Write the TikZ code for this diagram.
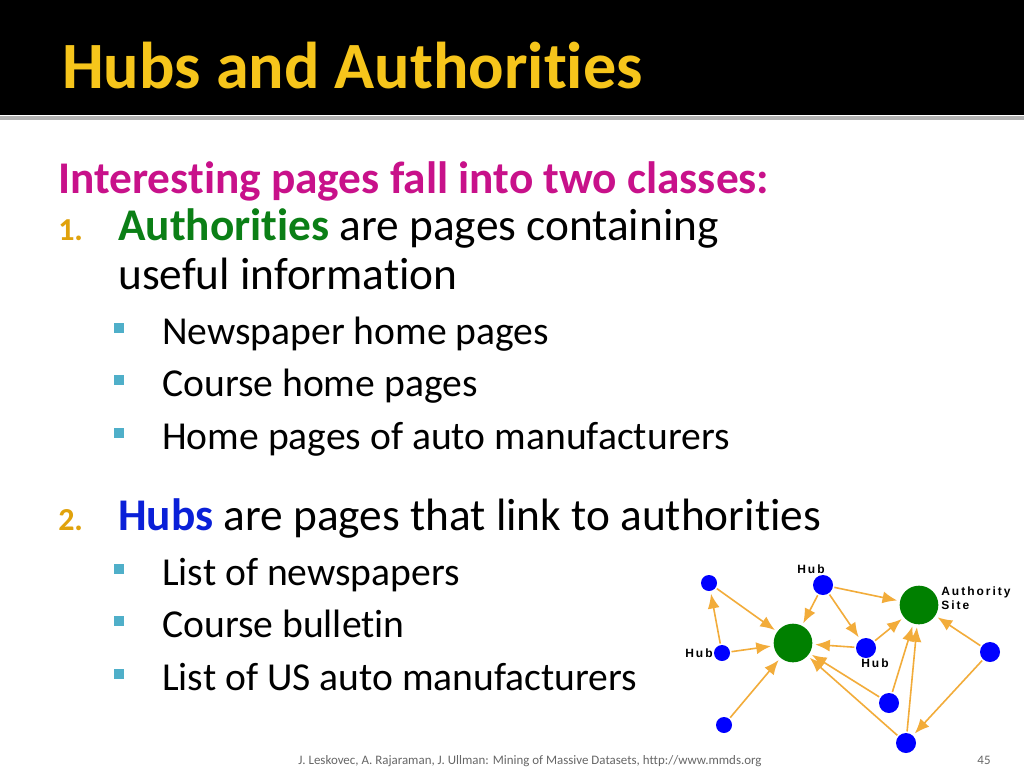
\documentclass[tikz,border=0pt]{standalone}
\usepackage{fontspec}
\usetikzlibrary{arrows.meta}
\setmainfont[Ligatures=NoCommon]{Carlito}
\newfontfamily\hel{Liberation Sans}
\definecolor{ttl}{HTML}{F6C51B}
\definecolor{mag}{HTML}{C8118A}
\definecolor{grn}{HTML}{0B7F16}
\definecolor{org}{HTML}{E0A20C}
\definecolor{blu}{HTML}{0A20D8}
\definecolor{teal}{HTML}{4FAFC9}
\definecolor{edge}{HTML}{F2AC3A}
\definecolor{big}{HTML}{008000}
\begin{document}
\begin{tikzpicture}[x=0.75pt,y=-0.75pt,
  txt/.style={anchor=base west,inner sep=0pt,font=\fontsize{34}{40}\selectfont},
  sub/.style={anchor=base west,inner sep=0pt,font=\fontsize{29.7}{34}\selectfont},
  num/.style={anchor=base west,inner sep=0pt,text=org,font=\bfseries\fontsize{24}{28}\selectfont},
  bul/.style={fill=teal,minimum size=7.5pt,inner sep=0pt},
  sm/.style={circle,fill=blue,minimum size=12pt,inner sep=0pt},
  hb/.style={circle,fill=blue,minimum size=15pt,inner sep=0pt},
  au/.style={circle,fill=big,minimum size=29pt,inner sep=0pt},
  lk/.style={draw=edge,line width=1.2pt,-{Latex[length=11pt,width=9pt]},shorten >=2pt,shorten <=1pt},
  lab/.style={font=\hel\bfseries\fontsize{9}{11}\selectfont,inner sep=0pt,anchor=base west}]
\useasboundingbox (0,0) rectangle (1024,768);
\fill[white] (0,0) rectangle (1024,768);
\fill[black] (0,0) rectangle (1024,115);
\fill[gray!60] (0,116) rectangle (1024,120);
\node[anchor=base west,inner sep=0pt,text=ttl,font=\bfseries\fontsize{49.6}{56}\selectfont] (t) at (62,88) {Hubs and Authorities};
\node[txt,text=mag,font=\bfseries\fontsize{34}{40}\selectfont] (h) at (58,193) {Interesting pages fall into two classes:};
\node[num] (n1) at (58,240) {1.};
\node[txt] (l1) at (118,240) {\textcolor{grn}{\bfseries Authorities} are pages containing};
\node[txt] (l2) at (118,289) {useful information};
\foreach \y/\s [count=\i] in {344/Newspaper home pages,396/Course home pages,449/Home pages of auto manufacturers}{
  \node[bul] (b\i) at (119,\y-16) {};
  \node[sub] (s\i) at (162,\y) {\s};}
\node[num] (n2) at (58,530) {2.};
\node[txt] (l3) at (118,530) {\textcolor{blu}{\bfseries Hubs} are pages that link to authorities};
\foreach \y/\s [count=\i from 4] in {585/List of newspapers,637/Course bulletin,690/List of US auto manufacturers}{
  \node[bul] (b\i) at (119,\y-16) {};
  \node[sub] (s\i) at (162,\y) {\s};}
\node[anchor=base,inner sep=0pt,text=gray!80!black,font=\fontsize{9.7}{11}\selectfont] (f) at (530,764) {J. Leskovec, A. Rajaraman, J. Ullman: Mining of Massive Datasets, http://www.mmds.org};
\node[anchor=base,inner sep=0pt,text=gray!80!black,font=\fontsize{9.7}{11}\selectfont] (pg) at (984,764) {45};
% graph
\node[sm] (A) at (709,583) {};
\node[hb] (H1) at (823,585) {};
\node[au] (G1) at (793,643) {};
\node[au] (G2) at (919,605) {};
\node[sm] (H2) at (722,653) {};
\node[hb] (H3) at (866,648) {};
\node[hb] (R) at (990,652) {};
\node[hb] (C) at (889,703) {};
\node[sm] (D) at (724,725) {};
\node[hb] (E) at (906,743) {};
\foreach \a/\b in {A/G1,H2/A,H2/G1,H1/G1,H1/G2,H1/H3,H3/G1,H3/G2,C/G1,C/G2,E/G1,E/G2,R/G2,R/E,D/G1}
  \draw[lk] (\a) -- (\b);
\node[lab] at (797,573) {H\,u\,b};
\node[lab] at (685,657) {H\,u\,b};
\node[lab] at (861,667) {H\,u\,b};
\node[lab] at (941,595) {A\,u\,t\,h\,o\,r\,i\,t\,y};
\node[lab] at (941,609) {S\,i\,t\,e};
\end{tikzpicture}
\end{document}
